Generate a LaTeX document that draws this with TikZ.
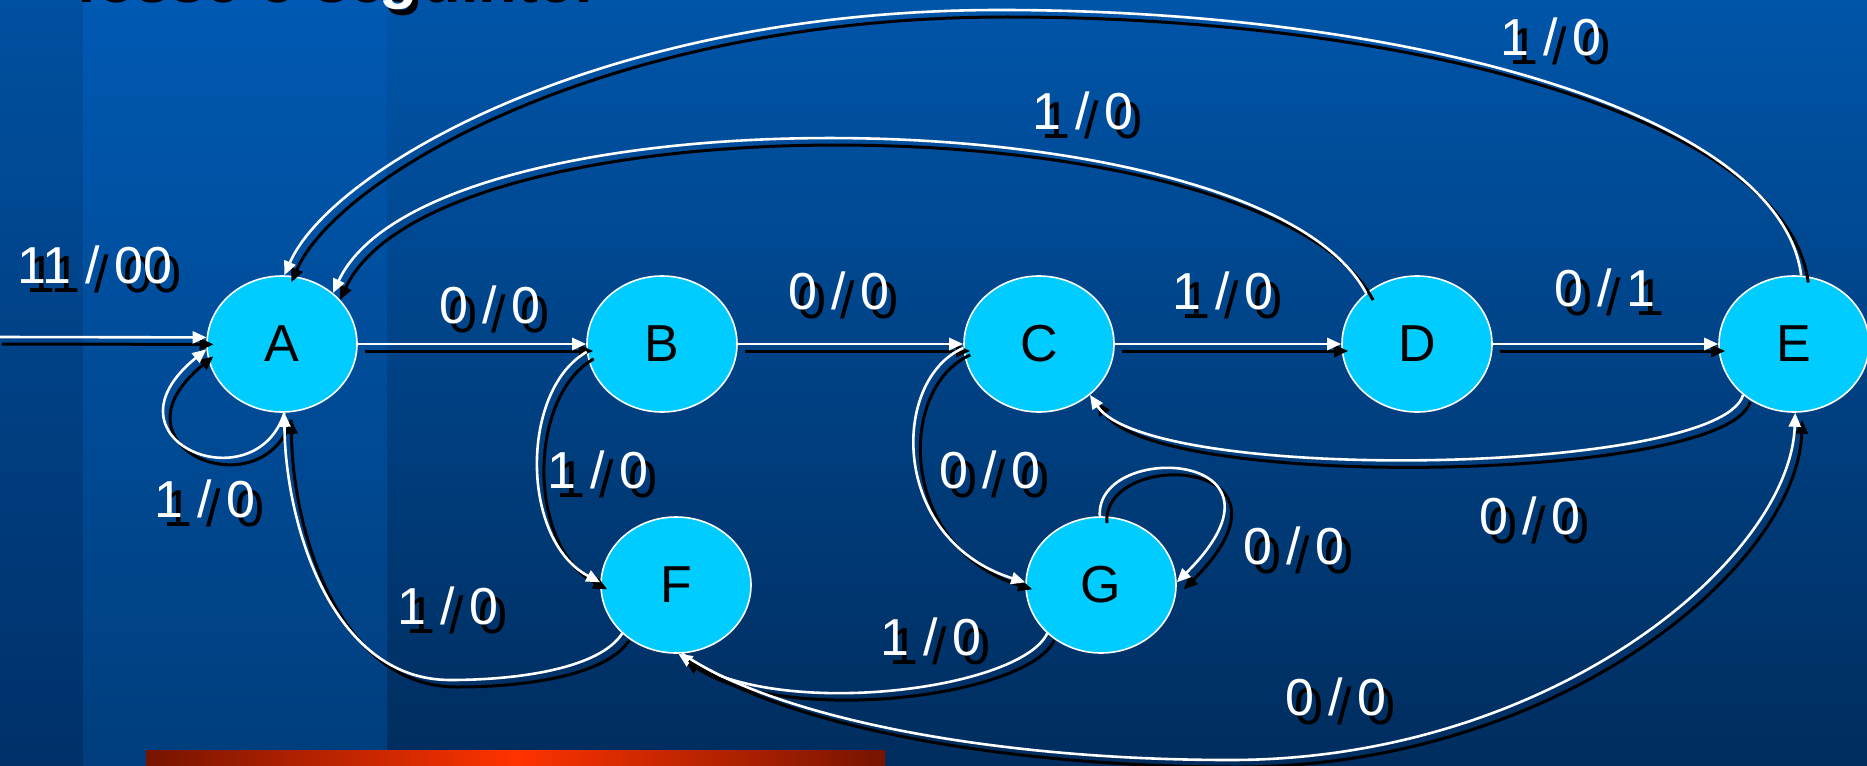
\documentclass[tikz,border=0pt]{standalone}
\usepackage{fontspec}
\setmainfont{Liberation Sans}
\usetikzlibrary{arrows.meta,shapes.geometric}
\definecolor{nodecyan}{HTML}{00CCFF}
\definecolor{bgtop}{HTML}{0055A9}
\definecolor{bgbot}{HTML}{002D5E}
\definecolor{bandtop}{HTML}{0059B2}
\definecolor{bandbot}{HTML}{003E7D}
\definecolor{striptop}{HTML}{0050A0}
\definecolor{stripbot}{HTML}{003068}
\definecolor{bardark}{HTML}{761400}
\definecolor{barbright}{HTML}{FF3300}
\newcommand{\shedge}[1]{\draw[eshadow] #1; \draw[ewhite] #1;}
\newcommand{\shlabel}[4]{\node[lbl,text=black] (#1s) at (#2+9,#3+9) {#4}; \node[lbl] (#1) at (#2,#3) {#4};}
\begin{document}
\begin{tikzpicture}[x=1pt,y=-1pt,
  state/.style={ellipse, draw=white, line width=1.6pt, fill=nodecyan, minimum width=150pt, minimum height=136pt, inner sep=0pt, font=\fontsize{52}{60}\selectfont, text=black},
  edgebase/.style={line width=2.6pt, -{Triangle[length=14pt,width=12pt]}},
  eshadow/.style={edgebase, line width=3pt, draw=black, transform canvas={shift={(7pt,-7pt)}}},
  ewhite/.style={edgebase, draw=white},
  lbl/.style={font=\fontsize{52}{60}\selectfont, text=white, inner sep=0pt},
  titlefont/.style={anchor=base west, font=\bfseries\fontsize{63}{70}\selectfont, inner sep=0pt},
  ]
\clip (0,0) rectangle (1867,765);
\shade[top color=bgtop, bottom color=bgbot] (0,0) rectangle (1867,765);
\shade[top color=striptop, bottom color=stripbot] (0,0) rectangle (83,765);
\shade[top color=bandtop, bottom color=bandbot] (83,0) rectangle (387,765);
\shade[left color=bardark, right color=bardark, middle color=barbright] (146,750) rectangle (885,765);

\node[titlefont, text=black] (titles) at (76,3) {fosse o seguinte:};
\node[titlefont, text=white] (title) at (71,-3) {fosse o seguinte:};

\node[state] (A) at (282,344) {A};
\node[state] (B) at (662,344) {B};
\node[state] (C) at (1039,344) {C};
\node[state] (D) at (1417,344) {D};
\node[state] (E) at (1794,344) {E};
\node[state] (F) at (676,585) {F};
\node[state] (G) at (1101,585) {G};

\coordinate (start) at (-5,337);

\shedge{(start) -- (A.175)}
\shedge{(A.-88) .. controls (255,505) and (95,440) .. (A.184)}
\shedge{(A.east) -- (B.west)}
\shedge{(B.east) -- (C.west)}
\shedge{(C.east) -- (D.west)}
\shedge{(D.east) -- (E.west)}
\shedge{(E.-135) .. controls (1720,475) and (1150,485) .. (C.-45)}
\shedge{(D.135) .. controls (1260,92) and (430,85) .. (A.45)}
\shedge{(E.84) .. controls (1780,110) and (1400,10) .. (1000,10) .. controls (600,10) and (330,170) .. (A.88)}
\shedge{(B.186) .. controls (520,390) and (520,540) .. (F.178)}
\shedge{(F.-138) .. controls (600,668) and (520,680) .. (450,680) .. controls (330,680) and (285,520) .. (A.-88)}
\shedge{(C.183) .. controls (890,380) and (890,540) .. (G.178)}
\shedge{(G.91) .. controls (1095,440) and (1310,450) .. (G.2)}
\shedge{(G.-138) .. controls (1020,690) and (780,720) .. (F.-88)}
\shedge{(F.-85) .. controls (780,720) and (1000,760) .. (1230,760) .. controls (1550,760) and (1790,560) .. (E.-89)}

\shlabel{l1}{95}{265}{11 / 00}
\shlabel{l2}{205}{499}{1 / 0}
\shlabel{l3}{490}{305}{0 / 0}
\shlabel{l4}{839}{291}{0 / 0}
\shlabel{l5}{1223}{291}{1 / 0}
\shlabel{l6}{1605}{288}{0 / 1}
\shlabel{l7}{1083}{111}{1 / 0}
\shlabel{l8}{1551}{37}{1 / 0}
\shlabel{l9}{598}{470}{1 / 0}
\shlabel{l10}{448}{606}{1 / 0}
\shlabel{l11}{990}{470}{0 / 0}
\shlabel{l12}{1294}{546}{0 / 0}
\shlabel{l13}{931}{637}{1 / 0}
\shlabel{l14}{1530}{516}{0 / 0}
\shlabel{l15}{1336}{697}{0 / 0}
\end{tikzpicture}
\end{document}
